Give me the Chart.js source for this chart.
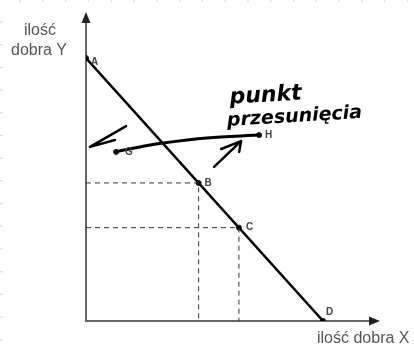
<!DOCTYPE html>
<html>
<head>
<meta charset="utf-8">
<script src="https://cdn.jsdelivr.net/npm/chart.js@4.4.1/dist/chart.umd.min.js"></script>
<style>
  html, body { margin: 0; padding: 0; background: #fff; }
  #wrap { width: 414px; height: 345px; }
</style>
</head>
<body>
<div id="wrap"><canvas id="chart" width="414" height="345"></canvas></div>
<script>
// linia budżetowa A-D
const budgetX = [0, 10];
const budgetY = [10, 0];

// punkty na wykresie
const pointNames = ['A', 'B', 'C', 'D', 'G', 'H'];
const pointX = [0, 4.75, 6.45, 10, 1.27, 7.3];
const pointY = [10, 5.25, 3.55, 0, 6.43, 7.07];

// punkty z liniami przerywanymi do osi
const guideNames = ['B', 'C'];

// odręczne dopiski (w jednostkach osi)
const strokeGHx = [1.22, 2.28, 3.25, 5.11, 7.22];
const strokeGHy = [6.43, 6.62, 6.77, 6.96, 7.07];
const arrowLeftX = [1.69, 0.17, 1.22];
const arrowLeftY = [7.41, 6.62, 6.88];
const arrowRightX = [5.40, 6.54, 5.70];
const arrowRightY = [5.86, 6.84, 6.54];
const arrowRightHeadX = [6.54, 6.46];
const arrowRightHeadY = [6.84, 6.43];

const note = ['punkt', 'przesunięcia'];
const axisTitleY = ['ilość', 'dobra Y'];
const axisTitleX = 'ilość dobra X';

const toXY = (xs, ys) => xs.map((x, i) => ({ x: x, y: ys[i] }));

const guideSets = guideNames.map(name => {
    const i = pointNames.indexOf(name);
    return {
        data: [{ x: 0, y: pointY[i] }, { x: pointX[i], y: pointY[i] }, { x: pointX[i], y: 0 }],
        showLine: true,
        borderColor: '#333',
        borderWidth: 1,
        borderDash: [5, 4],
        pointRadius: 0
    };
});

const hand = (data, w, tension) => ({
    data: data,
    showLine: true,
    borderColor: '#000',
    borderWidth: w,
    borderCapStyle: 'round',
    borderJoinStyle: 'round',
    tension: tension,
    pointRadius: 0
});

// osie ze strzałkami, podpisy i etykiety punktów
const decor = {
    id: 'decor',
    beforeDatasetsDraw(chart) {
        const ctx = chart.ctx;
        const sx = chart.scales.x, sy = chart.scales.y;
        const x0 = sx.getPixelForValue(0), y0 = sy.getPixelForValue(0);
        const top = chart.chartArea.top, right = chart.chartArea.right;

        // delikatna kratka kartki przy krawędziach
        ctx.save();
        ctx.strokeStyle = '#cfe6f6';
        ctx.lineWidth = 1.5;
        for (let x = 20; x < 414; x += 22.8) {
            ctx.beginPath(); ctx.moveTo(x, 0); ctx.lineTo(x, 2); ctx.stroke();
        }
        for (let y = 22; y < 345; y += 22.7) {
            ctx.beginPath(); ctx.moveTo(0, y); ctx.lineTo(3, y); ctx.stroke();
        }

        ctx.strokeStyle = '#666';
        ctx.fillStyle = '#222';
        ctx.lineWidth = 2;
        ctx.beginPath();
        ctx.moveTo(x0, y0 + 1);
        ctx.lineTo(x0, top + 8);
        ctx.moveTo(x0 - 1, y0);
        ctx.lineTo(right - 9, y0);
        ctx.stroke();
        ctx.beginPath();
        ctx.moveTo(x0, top);
        ctx.lineTo(x0 - 4.5, top + 11);
        ctx.lineTo(x0 + 4.5, top + 11);
        ctx.closePath();
        ctx.fill();
        ctx.beginPath();
        ctx.moveTo(right, y0);
        ctx.lineTo(right - 11, y0 - 4.5);
        ctx.lineTo(right - 11, y0 + 4.5);
        ctx.closePath();
        ctx.fill();
        ctx.restore();
    },
    afterDatasetsDraw(chart) {
        const ctx = chart.ctx;
        const sx = chart.scales.x, sy = chart.scales.y;
        ctx.save();
        ctx.fillStyle = '#555';
        ctx.font = '16px "Liberation Sans", Arial, sans-serif';
        ctx.textAlign = 'center';
        ctx.textBaseline = 'alphabetic';
        ctx.fillText(axisTitleY[0], 40, 35);
        ctx.fillText(axisTitleY[1], 39, 55);
        ctx.textAlign = 'left';
        ctx.fillText(axisTitleX, 317, 343);

        const offs = { A: [5, 4], B: [6, 0], C: [7, 0], D: [3, -9], G: [9, 0], H: [6, 0] };
        ctx.font = 'bold 10px "Liberation Sans", Arial, sans-serif';
        ctx.textBaseline = 'middle';
        ctx.fillStyle = '#444';
        pointNames.forEach((n, i) => {
            const px = sx.getPixelForValue(pointX[i]);
            const py = sy.getPixelForValue(pointY[i]);
            ctx.fillText(n, px + offs[n][0], py + offs[n][1]);
        });

        // odręczny napis
        ctx.fillStyle = '#000';
        ctx.font = 'italic bold 22px "DejaVu Sans", sans-serif';
        ctx.textBaseline = 'alphabetic';
        ctx.save();
        ctx.translate(226, 104);
        ctx.rotate(-0.06);
        ctx.fillText(note[0], 4, 0);
        ctx.font = 'italic bold 19px "DejaVu Sans", sans-serif';
        ctx.fillText(note[1], 0, 22);
        ctx.restore();
        ctx.restore();
    }
};

new Chart(document.getElementById('chart'), {
    type: 'scatter',
    data: {
        datasets: [
            ...guideSets,
            {
                data: toXY(budgetX, budgetY),
                showLine: true,
                borderColor: '#000',
                borderWidth: 2.5,
                pointRadius: 0
            },
            hand(toXY(strokeGHx, strokeGHy), 3, 0.3),
            hand(toXY(arrowLeftX, arrowLeftY), 2.5, 0),
            hand(toXY(arrowRightX, arrowRightY), 2.5, 0),
            hand(toXY(arrowRightHeadX, arrowRightHeadY), 2.5, 0),
            {
                data: toXY(pointX, pointY),
                showLine: false,
                backgroundColor: '#111',
                borderColor: '#111',
                pointRadius: 2.5
            }
        ]
    },
    options: {
        responsive: false,
        animation: false,
        layout: { padding: { left: 86, right: 34, top: 12, bottom: 24 } },
        plugins: { legend: { display: false }, tooltip: { enabled: false } },
        scales: {
            x: { type: 'linear', min: 0, max: 12.4, display: false },
            y: { type: 'linear', min: 0, max: 11.75, display: false }
        }
    },
    plugins: [decor]
});
</script>
</body>
</html>
